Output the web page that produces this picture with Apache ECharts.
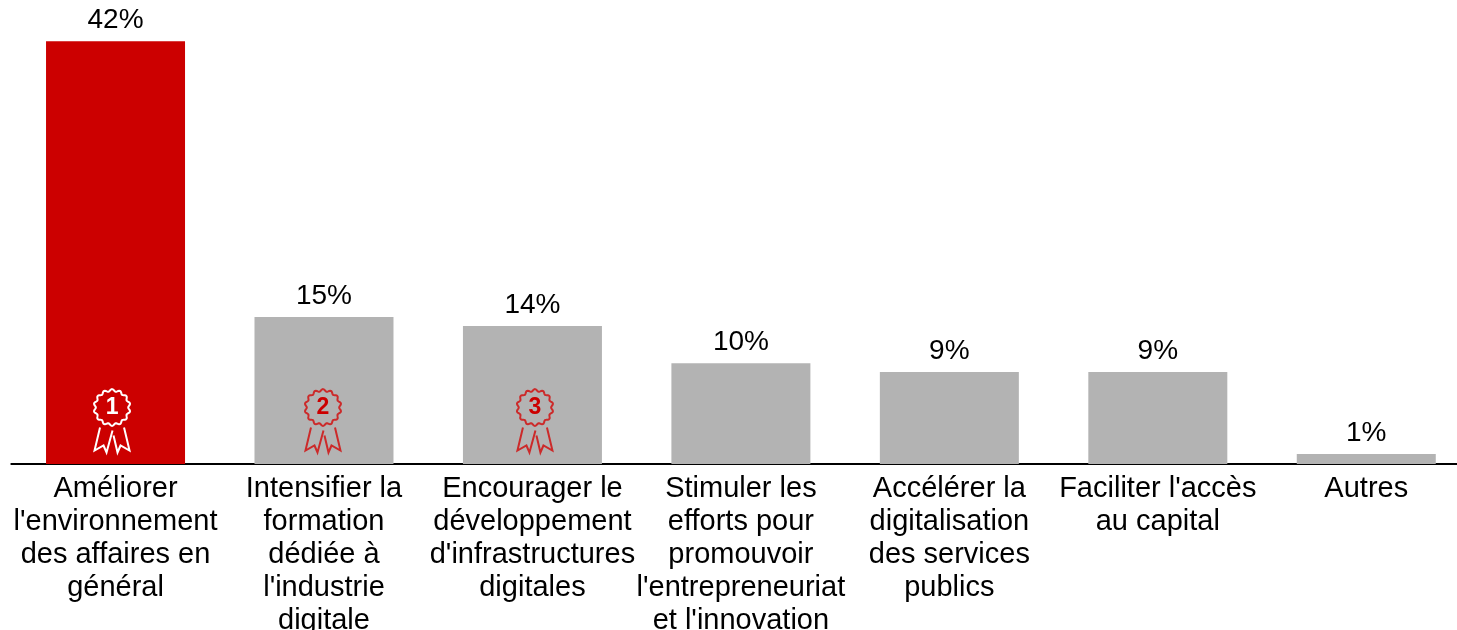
<!DOCTYPE html>
<html><head><meta charset="utf-8"><style>html,body{margin:0;padding:0;background:#fff}#c{width:1457px;height:630px}</style>
<script src="https://cdn.jsdelivr.net/npm/echarts@6/dist/echarts.min.js"></script></head>
<body><div id="c"></div><script>
const categories=["Améliorer\nl'environnement\ndes affaires en\ngénéral","Intensifier la\nformation\ndédiée à\nl'industrie\ndigitale","Encourager le\ndéveloppement\nd'infrastructures\ndigitales","Stimuler les\nefforts pour\npromouvoir\nl'entrepreneuriat\net l'innovation","Accélérer la\ndigitalisation\ndes services\npublics","Faciliter l'accès\nau capital","Autres"];
const values=[42,14.6,13.7,10,9.15,9.15,1];
const valueLabels=["42%","15%","14%","10%","9%","9%","1%"];
const barColors=["#cc0000","#b3b3b3","#b3b3b3","#b3b3b3","#b3b3b3","#b3b3b3","#b3b3b3"];
const ranks=[1,2,3];
const rankColors=["#ffffff","#cc2a2a","#cc2a2a"];
const rankOffsets=[-3.5,-1,2.5];
const font='"Liberation Sans",Arial,sans-serif';
const chart=echarts.init(document.getElementById('c'),null,{renderer:'canvas'});
function badge(params,api){
 const i=api.value(0);const p=api.coord([i,0]);const col=rankColors[i];
 const cx=p[0]+rankOffsets[i];const cy=p[1]-56.5;const ch=[];
 let d='';const steps=140;
 for(let k=0;k<steps;k++){const a=k/steps*Math.PI*2;const rr=17.3+1.1*Math.cos(14*a);d+=(k?'L':'M')+(cx+rr*Math.sin(a)).toFixed(2)+' '+(cy-rr*Math.cos(a)).toFixed(2);}
 ch.push({type:'path',shape:{pathData:d+'Z'},style:{fill:'none',stroke:col,lineWidth:2}});
 const pt=(x,y)=>(cx+x)+' '+(cy+y);
 const rib='M'+pt(-12,20)+'L'+pt(-17.5,43)+'L'+pt(-8.5,38)+'L'+pt(-5.5,45)+'L'+pt(0.5,23)
 +'M'+pt(12,20)+'L'+pt(17.5,43)+'L'+pt(8.5,38)+'L'+pt(5.5,45)+'L'+pt(1.5,28);
 ch.push({type:'path',shape:{pathData:rib},style:{fill:'none',stroke:col,lineWidth:2}});
 ch.push({type:'text',style:{text:String(ranks[i]),x:cx,y:cy+0.5,align:'center',verticalAlign:'middle',fill:i===0?'#ffffff':'#cc0000',font:'bold 23px '+font}});
 return {type:'group',children:ch};
}
chart.setOption({animation:false,
 grid:{left:11.3,right:-13.5,top:11,bottom:166,containLabel:false,outerBoundsMode:'none'},
 xAxis:{type:'category',data:categories,axisTick:{show:false},axisLine:{lineStyle:{color:'#000',width:2}},
  axisLabel:{interval:0,color:'#000',fontSize:29,fontFamily:font,lineHeight:33,margin:8,verticalAlign:'top'}},
 yAxis:{type:'value',min:0,max:45,show:false,splitLine:{show:false}},
 series:[{type:'bar',data:values.map((v,i)=>({value:v,itemStyle:{color:barColors[i]}})),barWidth:139,
   label:{show:true,position:'top',distance:7,formatter:p=>valueLabels[p.dataIndex],color:'#000',fontSize:28,fontFamily:font}},
  {type:'custom',data:ranks.map((r,i)=>[i]),renderItem:badge,z:5,silent:true}]
});
</script></body></html>
